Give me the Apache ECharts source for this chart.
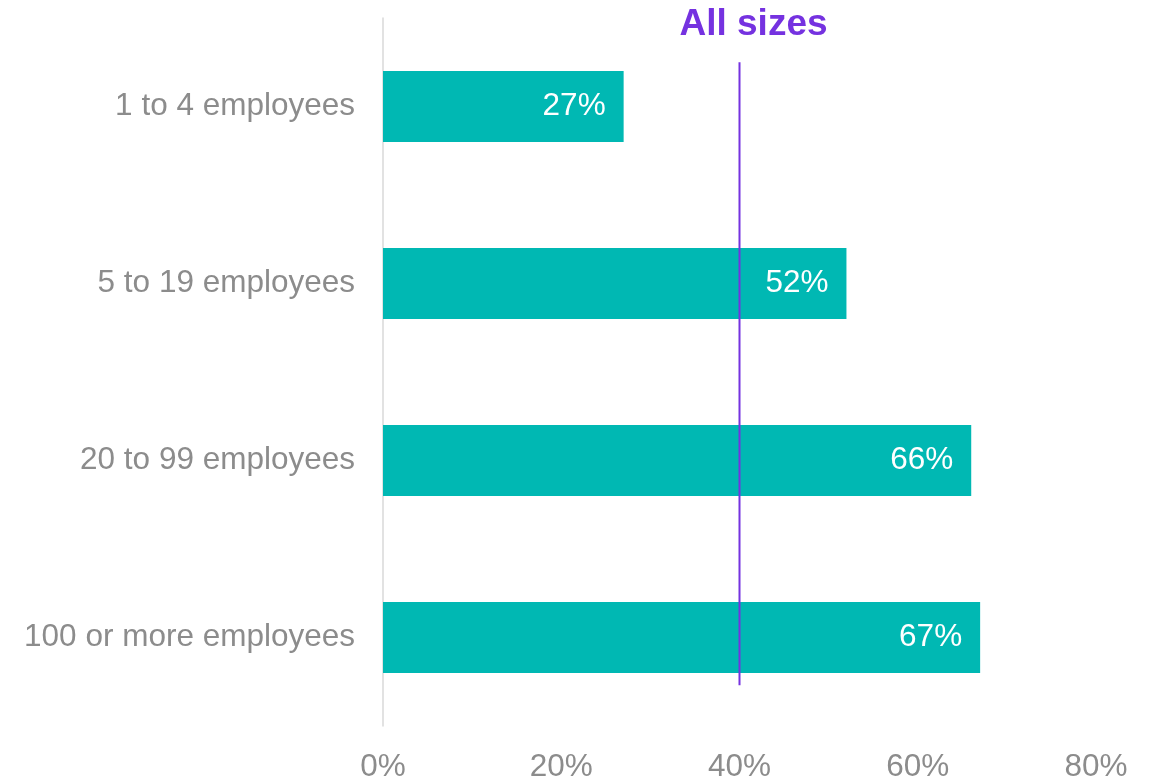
<!DOCTYPE html>
<html>
<head>
<meta charset="utf-8">
<script src="https://cdn.jsdelivr.net/npm/echarts@6/dist/echarts.min.js"></script>
<style>
  html, body { margin: 0; padding: 0; background: #ffffff; }
  #chart { width: 1156px; height: 779px; }
</style>
</head>
<body>
<div id="chart"></div>
<script>
// Share of firms by size band
const categories = ['1 to 4 employees', '5 to 19 employees', '20 to 99 employees', '100 or more employees'];
const values = [27, 52, 66, 67];
const allSizesValue = 40;
const allSizesLabel = 'All sizes';
const xTicks = [0, 20, 40, 60, 80];

const teal = '#00b8b3';
const purple = '#7532e0';
const grey = '#8c8c8c';
const font = '"Liberation Sans", Arial, sans-serif';

const chart = echarts.init(document.getElementById('chart'), null, { renderer: 'canvas' });

chart.setOption({
  animation: false,
  grid: { left: 383, right: 60, top: 18, bottom: 53, containLabel: false, outerBoundsMode: 'none' },
  xAxis: {
    type: 'value',
    min: xTicks[0],
    max: xTicks[xTicks.length - 1],
    interval: 20,
    axisLine: { show: false },
    axisTick: { show: false },
    splitLine: { show: false },
    axisLabel: {
      formatter: '{value}%',
      color: grey,
      fontSize: 31.5,
      fontFamily: font,
      margin: 25
    }
  },
  yAxis: [
    {
      type: 'category',
      data: categories,
      inverse: true,
      axisLine: { show: true, lineStyle: { color: '#d9d9d9', width: 1.5 } },
      axisTick: { show: false },
      axisLabel: {
        color: grey,
        fontSize: 31.5,
        fontFamily: font,
        margin: 28,
        padding: [9, 0, 0, 0]
      }
    },
    {
      // hidden helper axis used to place the reference line
      type: 'value',
      min: 0,
      max: 4,
      show: false
    }
  ],
  series: [
    {
      type: 'bar',
      data: values,
      barWidth: '40%',
      itemStyle: { color: teal },
      label: {
        show: true,
        position: 'insideRight',
        distance: 18,
        formatter: '{c}%',
        color: '#ffffff',
        fontSize: 31.5,
        fontFamily: font,
        padding: [6, 0, 0, 0]
      },
      z: 2
    },
    {
      type: 'line',
      yAxisIndex: 1,
      data: [
        {
          value: [allSizesValue, 3.75],
          label: {
            show: true,
            formatter: allSizesLabel,
            position: 'top',
            color: purple,
            fontSize: 37,
            fontWeight: 'bold',
            fontFamily: font,
            distance: 19,
            offset: [14, 0]
          }
        },
        [allSizesValue, 0.23]
      ],
      symbol: 'circle',
      symbolSize: 0,
      showSymbol: true,
      lineStyle: { color: purple, width: 2 },
      z: 3
    }
  ]
});
</script>
</body>
</html>
